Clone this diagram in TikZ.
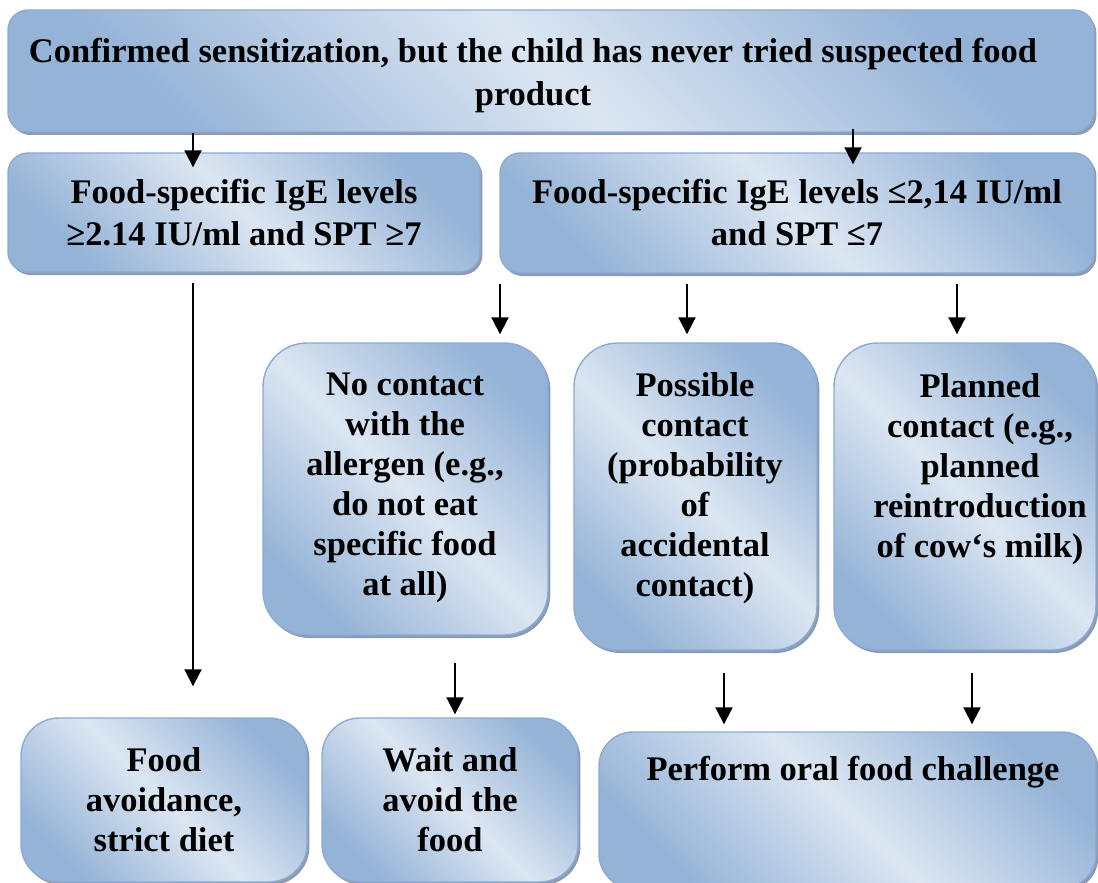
\documentclass[tikz,border=0pt]{standalone}
\usepackage{fontspec}
\setmainfont{Liberation Serif}
\usetikzlibrary{arrows.meta,shadows}

\definecolor{boxdark}{RGB}{149,179,215}
\definecolor{boxlight}{RGB}{220,230,242}
\definecolor{boxline}{RGB}{139,171,213}
\definecolor{boxshadow}{RGB}{140,155,178}

\tikzset{
  box/.style={draw=boxline, line width=0.7pt, rounded corners=#1,
    top color=boxdark, bottom color=boxdark, middle color=boxlight, shading angle=-45,
    drop shadow={shadow xshift=1.2pt, shadow yshift=-1.5pt, fill=boxshadow, opacity=1}},
  box/.default=10pt,
  txt/.style={font=\bfseries\fontsize{17.25}{#1}\selectfont, align=center, inner sep=0pt},
  txt/.default=20,
  arr/.style={line width=1pt, -{Triangle[length=8.5pt,width=8.5pt]}}
}

\begin{document}
\begin{tikzpicture}[x=0.5pt, y=-0.5pt]
  \useasboundingbox (0,0) rectangle (1098,883);
  % boxes
  \node[box, minimum width=543pt, minimum height=61pt] (top) at (551,71) {};
  \node[box, minimum width=236pt, minimum height=59.5pt] (hi) at (244,212.5) {};
  \node[box, minimum width=297pt, minimum height=60pt] (lo) at (797,213) {};
  \node[box=22pt, minimum width=142.5pt, minimum height=146pt] (nc) at (405.5,489) {};
  \node[box=22pt, minimum width=121.5pt, minimum height=153.5pt] (pc) at (695.5,496.5) {};
  \node[box=22pt, minimum width=131pt, minimum height=153.5pt] (pl) at (965,496.5) {};
  \node[box=19pt, minimum width=143pt, minimum height=82pt] (fa) at (164,800) {};
  \node[box=19pt, minimum width=128pt, minimum height=82pt] (wa) at (450,800) {};
  \node[box=17pt, minimum width=248.5pt, minimum height=78pt] (pf) at (847.5,810) {};
  % texts
  \node[txt=21.5] (top-t) at (533,76) {Confirmed sensitization, but the child has never tried suspected food\\product};
  \node[txt=21] (hi-t) at (244,213) {Food-specific IgE levels\\≥2.14 IU/ml and SPT ≥7};
  \node[txt=21] (lo-t) at (797,213) {Food-specific IgE levels ≤2,14 IU/ml\\and SPT ≤7};
  \node[txt] (nc-t) at (405,488) {No contact\\with the\\allergen (e.g.,\\do not eat\\specific food\\at all)};
  \node[txt] (pc-t) at (695,488) {Possible\\contact\\(probability\\of\\accidental\\contact)};
  \node[txt] (pl-t) at (980,469) {Planned\\contact (e.g.,\\planned\\reintroduction\\of cow‘s milk)};
  \node[txt] (fa-t) at (164,800) {Food\\avoidance,\\strict diet};
  \node[txt] (wa-t) at (450,800) {Wait and\\avoid the\\food};
  \node[txt] (pf-t) at (853,772) {Perform oral food challenge};
  % arrows
  \foreach \c/\from/\to/\ys/\ye in {193/top/hi/0/-7.5, 853/top/lo/2/-6, 193/hi/fa/-5/15.5,
      500/lo/nc/-5/4, 687/lo/pc/-5/4, 957/lo/pl/-5/4, 455/nc/wa/-13.5/1.5,
      724/pc/pf/-11/3.5, 972/pl/pf/-11/3.5}
    {\coordinate (col) at (\c,0);
     \draw[arr] ([yshift=\ys pt]col |- \from.south) -- ([yshift=\ye pt]col |- \to.north);}
\end{tikzpicture}
\end{document}
